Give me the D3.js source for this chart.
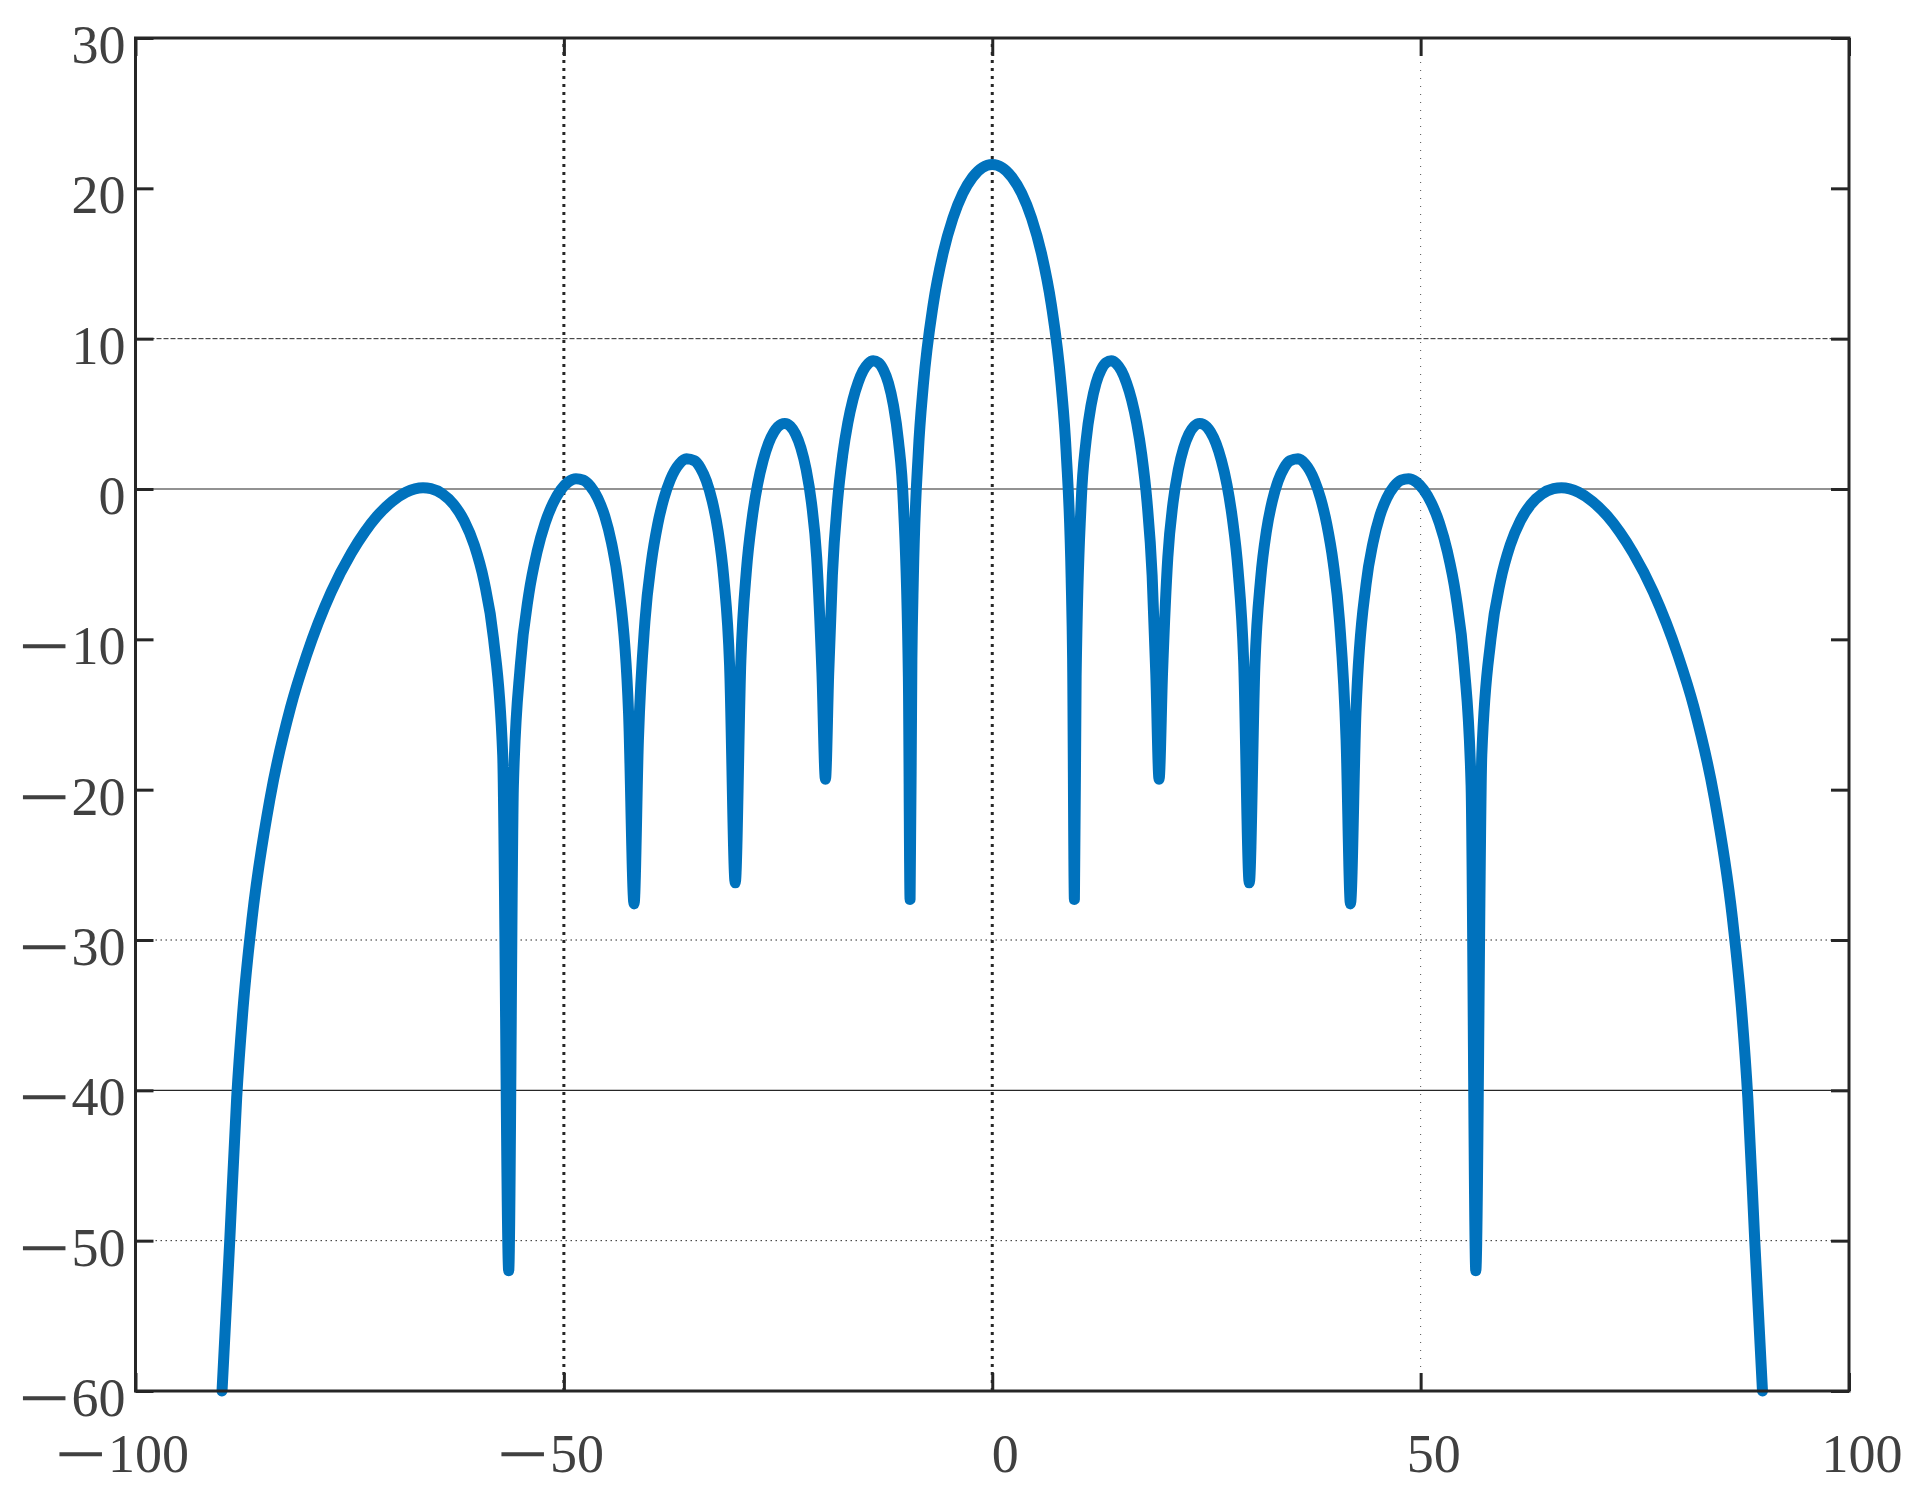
<!DOCTYPE html>
<html>
<head>
<meta charset="utf-8">
<script src="https://cdn.jsdelivr.net/npm/d3@7"></script>
<style>
  html, body { margin: 0; padding: 0; background: #fff; }
  svg { display: block; }
</style>
</head>
<body>
<svg id="chart" width="1932" height="1498"></svg>
<script>
// ---- data (angle in degrees, gain in dB) ----
const angles = [
  -89.9, -89.0, -88.19, -87.44, -86.38, -84.27, -81.89, -80.06, -77.16, -74.79, -73.24, -71.81, -70.05, -68.43,
  -66.44, -65.51, -64.16, -62.87, -61.64, -60.46, -59.32, -58.21, -57.14,
  -56.44, -55.89, -55.08, -54.10, -53.13, -52.19, -51.26, -50.35, -49.46, -48.59,
  -47.73, -46.89, -46.05, -45.23, -44.43, -43.63, -42.45, -41.81, -41.30, -40.54,
  -39.79, -39.05, -38.32, -37.59, -36.51, -35.69, -34.75, -34.06, -33.37, -32.69,
  -32.00, -31.33, -30.66, -30.0, -29.34, -28.69, -28.03, -27.39, -26.74, -26.11,
  -25.47, -24.62, -24.21, -23.58, -22.96, -22.34, -21.72, -21.10, -20.49, -19.88,
  -19.47, -19.09, -18.66, -18.06, -17.46, -16.86, -16.26, -15.66, -15.07, -14.48,
  -13.89, -13.30, -12.71, -12.12, -11.54, -10.95, -10.37, -9.79, -9.59, -9.38,
  -9.21, -8.63, -8.05, -6.89, -5.74, -4.59, -3.44, -2.29, -1.15,
  0,
  1.15, 2.29, 3.44, 4.59, 5.74, 6.89, 8.05, 8.63, 9.21,
  9.38, 9.59, 9.79, 10.37, 10.95, 11.54, 12.12, 12.71, 13.30, 13.89,
  14.48, 15.07, 15.66, 16.26, 16.86, 17.46, 18.06, 18.66, 19.09, 19.47,
  19.88, 20.49, 21.10, 21.72, 22.34, 22.96, 23.58, 24.21, 24.62, 25.47,
  26.11, 26.74, 27.39, 28.03, 28.69, 29.34, 30.0, 30.66, 31.33, 32.00,
  32.69, 33.37, 34.06, 34.75, 35.69, 36.51, 37.59, 38.32, 39.05, 39.79,
  40.54, 41.30, 41.81, 42.45, 43.63, 44.43, 45.23, 46.05, 46.89, 47.73,
  48.59, 49.46, 50.35, 51.26, 52.19, 53.13, 54.10, 55.08, 55.89, 56.44,
  57.14, 58.21, 59.32, 60.46, 61.64, 62.87, 64.16, 65.51, 66.44,
  68.43, 70.05, 71.81, 73.24, 74.79, 77.16, 80.06, 81.89, 84.27, 86.38, 87.44, 88.19, 89.0, 89.9
];
const gains = [
  -60, -50.0, -40.5, -34.5, -28.5, -20.5, -14.5, -11.1, -6.85, -4.24, -2.86, -1.81, -0.83, -0.22,
  0.08, 0.02, -0.33, -1.02, -2.11, -3.73, -6.13, -9.96, -17.7,
  -52.0, -19.7, -11.7, -7.02, -4.18, -2.26, -0.94, -0.05, 0.48, 0.69,
  0.59, 0.17, -0.60, -1.81, -3.61, -6.34, -14.9, -27.6, -16.7, -8.82,
  -4.87, -2.35, -0.62, 0.60, 1.68, 2.01, 1.88, 1.40, 0.54, -0.79,
  -2.80, -5.94, -11.7, -26.2, -11.4, -5.39, -1.98, 0.30, 1.91, 3.04,
  3.80, 4.31, 4.36, 4.18, 3.66, 2.74, 1.30, -0.92, -4.56, -12.2,
  -19.3, -12.3, -5.74, -0.82, 2.24, 4.39, 5.95, 7.08, 7.87, 8.34,
  8.53, 8.40, 7.93, 7.05, 5.59, 3.21, -1.0, -12.5, -27.3, -11.3,
  -5.95, 2.44, 6.88, 12.28, 15.68, 18.02, 19.66, 20.75, 21.38,
  21.58,
  21.38, 20.75, 19.66, 18.02, 15.68, 12.28, 6.88, 2.44, -5.95,
  -11.3, -27.3, -12.5, -1.0, 3.21, 5.59, 7.05, 7.93, 8.40, 8.53,
  8.34, 7.87, 7.08, 5.95, 4.39, 2.24, -0.82, -5.74, -12.3, -19.3,
  -12.2, -4.56, -0.92, 1.30, 2.74, 3.66, 4.18, 4.36, 4.31, 3.80,
  3.04, 1.91, 0.30, -1.98, -5.39, -11.4, -26.2, -11.7, -5.94, -2.80,
  -0.79, 0.54, 1.40, 1.88, 2.01, 1.68, 0.60, -0.62, -2.35, -4.87,
  -8.82, -16.7, -27.6, -14.9, -6.34, -3.61, -1.81, -0.60, 0.17, 0.59,
  0.69, 0.48, -0.05, -0.94, -2.26, -4.18, -7.02, -11.7, -19.7, -52.0,
  -17.7, -9.96, -6.13, -3.73, -2.11, -1.02, -0.33, 0.02, 0.08,
  -0.22, -0.83, -1.81, -2.86, -4.24, -6.85, -11.1, -14.5, -20.5, -28.5, -34.5, -40.5, -50.0, -60
];
const xTicks = [-100, -50, 0, 50, 100];
const yTicks = [30, 20, 10, 0, -10, -20, -30, -40, -50, -60];
const xDomain = [-100, 100];
const yDomain = [-60, 30];

// ---- layout ----
const L = 135.5, R = 1849, T = 38, B = 1391;
const svg = d3.select("#chart");
const x = d3.scaleLinear().domain(xDomain).range([L, R]);
const y = d3.scaleLinear().domain(yDomain).range([B, T]);

const axisColor = "#262626";
const textColor = "#404040";
const fontFamily = "'Liberation Serif', 'Times New Roman', serif";
const fs = 54;

// grid line styles (as seen in the reference)
const xGridStyle = {
  "-50": { w: 3, dash: "3,5", op: 1 },
  "0":   { w: 3, dash: "3,5", op: 1 },
  "50":  { w: 1, dash: "1,7", op: 0.8 }
};
const yGridStyle = {
  "10":  { w: 1, dash: "5,2", op: 1 },
  "0":   { w: 1.2, dash: null, op: 1 },
  "-30": { w: 1, dash: "1.5,3.5", op: 1 },
  "-40": { w: 1.2, dash: null, op: 1 },
  "-50": { w: 1, dash: "1.5,3.5", op: 1 }
};

const grid = svg.append("g");
xTicks.forEach(t => {
  const s = xGridStyle[String(t)];
  if (!s) return;
  grid.append("line")
    .attr("x1", x(t)).attr("x2", x(t)).attr("y1", B).attr("y2", T)
    .attr("stroke", axisColor).attr("stroke-width", s.w)
    .attr("stroke-dasharray", s.dash).attr("opacity", s.op);
});
yTicks.forEach(t => {
  const s = yGridStyle[String(t)];
  if (!s) return;
  grid.append("line")
    .attr("x1", L).attr("x2", R).attr("y1", y(t)).attr("y2", y(t))
    .attr("stroke", axisColor).attr("stroke-width", s.w)
    .attr("stroke-dasharray", s.dash).attr("opacity", s.op);
});

// ---- curve ----
const pts = angles.map((a, i) => [a, gains[i]]);
const line = d3.line()
  .x(d => x(d[0])).y(d => y(d[1]))
  .curve(d3.curveMonotoneX);
svg.append("path")
  .datum(pts)
  .attr("d", line)
  .attr("fill", "none")
  .attr("stroke", "#0072BD")
  .attr("stroke-width", 11)
  .attr("stroke-linejoin", "round")
  .attr("stroke-linecap", "round");

// ---- axes ticks (inward, all four sides) ----
const tickLen = 18;
const axG = svg.append("g");
const bottomAxis = d3.axisBottom(x).tickValues(xTicks).tickSizeInner(-tickLen).tickSizeOuter(0).tickFormat("");
const topAxis = d3.axisTop(x).tickValues(xTicks).tickSizeInner(-tickLen).tickSizeOuter(0).tickFormat("");
const leftAxis = d3.axisLeft(y).tickValues(yTicks).tickSizeInner(-tickLen).tickSizeOuter(0).tickFormat("");
const rightAxis = d3.axisRight(y).tickValues(yTicks).tickSizeInner(-tickLen).tickSizeOuter(0).tickFormat("");
[
  [bottomAxis, `translate(0,${B})`],
  [topAxis, `translate(0,${T})`],
  [leftAxis, `translate(${L},0)`],
  [rightAxis, `translate(${R},0)`]
].forEach(([ax, tr]) => {
  const g = axG.append("g").attr("transform", tr).call(ax);
  g.select(".domain").remove();
  g.selectAll(".tick line").attr("stroke", axisColor).attr("stroke-width", 3);
});

// box
svg.append("rect")
  .attr("x", L).attr("y", T).attr("width", R - L).attr("height", B - T)
  .attr("fill", "none").attr("stroke", axisColor).attr("stroke-width", 3);

// ---- tick labels ----
function addLabel(g, v, xe, yb) {
  const t = g.append("text")
    .attr("x", xe).attr("y", yb)
    .attr("text-anchor", "end")
    .attr("font-family", fontFamily)
    .attr("font-size", fs)
    .attr("fill", textColor);
  if (v < 0) {
    t.append("tspan")
      .attr("textLength", 49)
      .attr("lengthAdjust", "spacingAndGlyphs")
      .attr("stroke", textColor)
      .attr("stroke-width", 1.3)
      .text("\u2212");
    t.append("tspan").attr("dx", 3).text(String(Math.abs(v)));
  } else {
    t.append("tspan").text(String(v));
  }
}
const labG = svg.append("g");
xTicks.forEach(v => {
  const nd = String(Math.abs(v)).length;
  addLabel(labG, v, x(v) + 13 + nd * fs / 4, 1472);
});
yTicks.forEach(v => {
  addLabel(labG, v, L - 10, y(v) + 25);
});
</script>
</body>
</html>
